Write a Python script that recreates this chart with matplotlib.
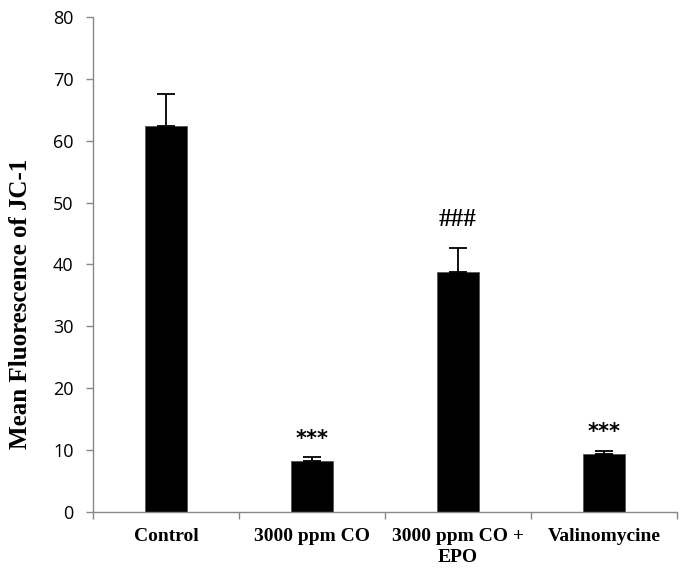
import numpy as np
import matplotlib.pyplot as plt

# values
groups = ["Control", "3000 ppm CO", "3000 ppm CO +\nEPO", "Valinomycine"]
means = [62.4, 8.2, 38.8, 9.3]
errs = [5.2, 0.6, 3.9, 0.5]
marks = ["", "***", "###", "***"]
mark_y = [0, 11.8, 47.3, 12.9]

fig = plt.figure(figsize=(6.83, 5.68), dpi=100)
ax = fig.add_axes([0.136, 0.099, 0.855, 0.871])

x = np.arange(len(groups))
ax.bar(x, means, width=0.29, color="black", edgecolor="#555555", linewidth=0.6, zorder=2)
ax.errorbar(x, means, yerr=[np.zeros(len(errs)), errs], fmt="none",
            ecolor="black", elinewidth=1.3, capsize=6.5, capthick=1.3, zorder=3)

for i in range(len(groups)):
    if marks[i] == "***":
        ax.text(x[i], mark_y[i], marks[i], ha="center", va="center",
                fontsize=15, family="DejaVu Sans", fontweight="bold")
    elif marks[i]:
        ax.text(x[i], mark_y[i], marks[i], ha="center", va="center",
                fontsize=18, family="Liberation Serif", fontweight="bold")

ax.set_xlim(-0.5, len(groups) - 0.5)
ax.set_ylim(0, 80)
ax.set_yticks(np.arange(0, 81, 10))
ax.set_yticklabels([str(v) for v in range(0, 81, 10)], family="Open Sans", fontsize=13)

ax.set_xticks(x)
ax.set_xticklabels(groups, family="Liberation Serif", fontweight="bold", fontsize=14,
                   linespacing=1.25)
ax.tick_params(axis="x", length=0, pad=12)
ax.set_xticks(np.arange(-0.5, len(groups), 1.0), minor=True)
ax.tick_params(axis="x", which="minor", length=5, color="#888888", width=1)
ax.tick_params(axis="y", length=5, color="#888888", width=1, pad=9)

for s in ["top", "right"]:
    ax.spines[s].set_visible(False)
for s in ["left", "bottom"]:
    ax.spines[s].set_color("#888888")
    ax.spines[s].set_linewidth(1)

ax.set_ylabel("Mean Fluorescence of JC-1", family="Liberation Serif",
              fontweight="bold", fontsize=18)
ax.yaxis.set_label_coords(-0.104, 0.42)

fig.savefig("out.png", dpi=100)
